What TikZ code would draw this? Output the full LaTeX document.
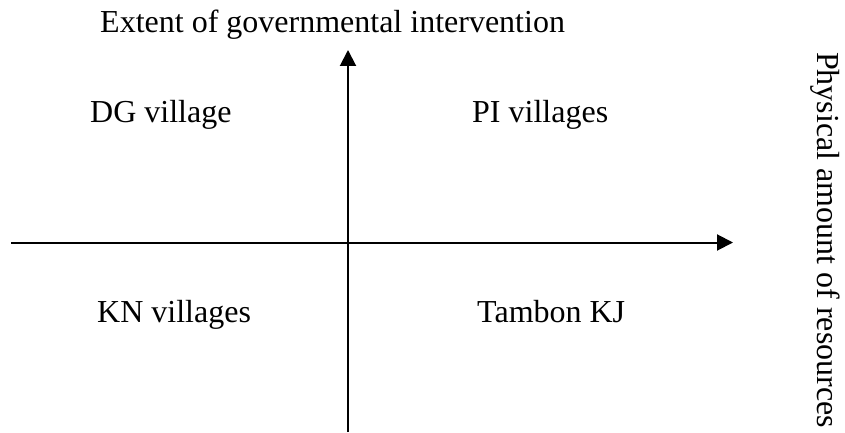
\documentclass[tikz,border=0pt]{standalone}
\usepackage{fontspec}
\setmainfont{Liberation Serif}
\usetikzlibrary{arrows.meta}
\begin{document}
\begin{tikzpicture}[x=1pt,y=1pt,
  lbl/.style={anchor=base west,inner sep=0pt,font=\fontsize{32}{38}\selectfont},
  axis/.style={line width=2pt,-{Triangle[length=16pt,width=16pt]}}]
\useasboundingbox (0,0) rectangle (845,432);
\coordinate (vb) at (348,0);
\coordinate (vt) at (348,382);
\coordinate (hl) at (11,189.5);
\coordinate (hr) at (733,189.5);
\draw[axis] (vb) -- (vt);
\draw[axis] (hl) -- (hr);
\node[lbl] (ext) at (100,399) {Extent of governmental intervention};
\node[lbl] (dg) at (90,309) {DG village};
\node[lbl] (pi) at (472,309) {PI villages};
\node[lbl] (kn) at (97,110) {KN villages};
\node[lbl] (tk) at (477,110) {Tambon KJ};
\node[lbl,rotate=-90] (phys) at (817,380) {Physical amount of resources};
\end{tikzpicture}
\end{document}
